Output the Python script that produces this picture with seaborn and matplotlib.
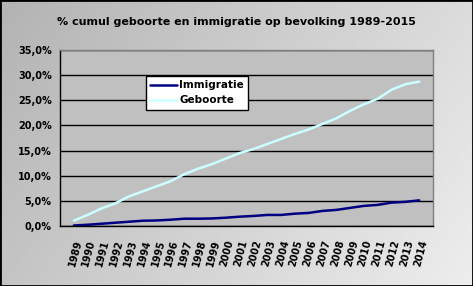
import numpy as np
import pandas as pd
import matplotlib
matplotlib.use("Agg")
import matplotlib.pyplot as plt
import seaborn as sns
from matplotlib.patches import Rectangle
from matplotlib.ticker import FuncFormatter

years = [str(y) for y in range(1989, 2015)]
immigratie = [0.10, 0.25, 0.45, 0.65, 0.85, 1.05, 1.10, 1.25, 1.45, 1.45, 1.50, 1.65,
              1.85, 2.00, 2.20, 2.20, 2.45, 2.60, 3.00, 3.20, 3.60, 4.00, 4.20, 4.65,
              4.80, 5.10]
geboorte = [1.07, 2.20, 3.50, 4.50, 5.90, 6.90, 7.90, 8.90, 10.30, 11.40, 12.30, 13.40,
            14.50, 15.30, 16.30, 17.30, 18.30, 19.20, 20.30, 21.40, 22.90, 24.20, 25.30,
            27.10, 28.20, 28.70]
series_names = ["Immigratie", "Geboorte"]
title = "% cumul geboorte en immigratie op bevolking 1989-2015"

df = pd.concat([
    pd.DataFrame({"x": range(len(years)), "val": immigratie, "reeks": series_names[0]}),
    pd.DataFrame({"x": range(len(years)), "val": geboorte, "reeks": series_names[1]}),
])

sns.set_style("white")
plt.rcParams["font.family"] = ["DejaVu Sans"]
plt.rcParams["text.color"] = "black"
plt.rcParams["xtick.color"] = "black"
plt.rcParams["ytick.color"] = "black"

fig = plt.figure(figsize=(4.73, 2.86), dpi=100)

# gradient background
bg = fig.add_axes([0, 0, 1, 1], zorder=-10)
gx = np.linspace(0, 1, 200)
gy = np.linspace(0, 1, 200)
GX, GY = np.meshgrid(gx, gy)
G = 0.70 + 0.23 * (0.7 * GX + 0.3 * GY)
bg.imshow(G, cmap="gray", vmin=0, vmax=1, aspect="auto", extent=[0, 1, 0, 1], origin="upper")
bg.set_axis_off()

ax = fig.add_axes([60 / 473, 1 - 226 / 286, 373 / 473, 176 / 286])
ax.set_facecolor("#c0c0c0")

sns.lineplot(data=df, x="x", y="val", hue="reeks", hue_order=series_names,
             palette=["#000080", "#ccffff"], linewidth=1.8, ax=ax, legend=True)

ax.set_xlim(-1, len(years))
ax.set_ylim(0, 35)
ax.set_yticks(np.arange(0, 36, 5))
ax.yaxis.set_major_formatter(FuncFormatter(lambda v, p: f"{v:.1f}%".replace(".", ",")))
ax.set_xticks(range(-1, len(years) + 1))
ax.set_xticklabels([""] + years + [""], rotation=75, ha="right", va="top",
                   rotation_mode="anchor", fontsize=7, fontweight="bold", color="black")
for lab in ax.get_yticklabels():
    lab.set_fontsize(7)
    lab.set_fontweight("bold")
    lab.set_color("black")
ax.tick_params(axis="both", direction="out", length=4, width=1, color="black", pad=2)
ax.tick_params(axis="x", pad=5)
ax.grid(axis="y", color="black", linewidth=1)
ax.set_axisbelow(True)
ax.set_xlabel("")
ax.set_ylabel("")
for s in ["top", "right"]:
    ax.spines[s].set_color("#808080")
    ax.spines[s].set_linewidth(1)
for s in ["left", "bottom"]:
    ax.spines[s].set_color("black")
    ax.spines[s].set_linewidth(1)

leg = ax.legend(loc="upper left", bbox_to_anchor=(0.23, 0.852), frameon=True, fancybox=False,
                edgecolor="black", facecolor="white", framealpha=1, fontsize=7.5,
                handlelength=2.6, borderpad=0.4, labelspacing=0.5, handletextpad=0.2,
                borderaxespad=0)
leg.get_frame().set_linewidth(1)
for t in leg.get_texts():
    t.set_fontweight("bold")
    t.set_color("black")

fig.text(0.5, 1 - 22 / 286, title, ha="center", va="center", fontsize=8, fontweight="bold",
         color="black")

fig.patches.append(Rectangle((0, 0), 1, 1, transform=fig.transFigure, fill=False,
                             edgecolor="black", linewidth=2))

fig.savefig("out.png", dpi=100)
